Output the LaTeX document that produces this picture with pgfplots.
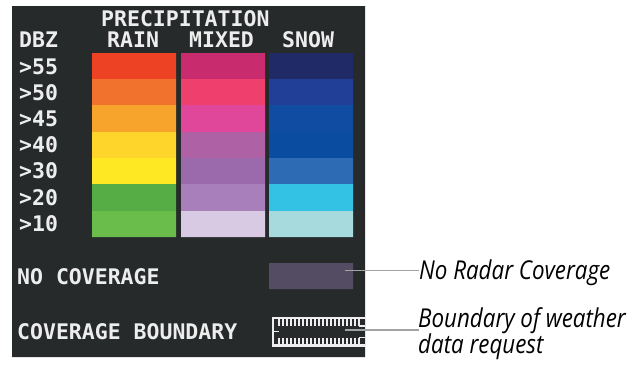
\documentclass[border=0pt]{standalone}
\usepackage{pgfplots}
\pgfplotsset{compat=1.18}
\usepackage{fontspec}
\setmainfont{Open Sans}
\newfontfamily\pixfamily{DejaVu Sans Mono}
\newfontfamily\callfamily[FakeStretch=0.86,ItalicFeatures={FakeStretch=0.86}]{Open Sans}
\newcommand{\pix}{\pixfamily\bfseries\fontsize{21.5}{21.5}\selectfont}
\newcommand{\call}{\callfamily\itshape\fontsize{26}{26}\selectfont}
\definecolor{panel}{HTML}{262A2B}
\definecolor{txt}{HTML}{EDEDED}
\definecolor{nocov}{HTML}{544C63}
\definecolor{callline}{HTML}{A3A3A3}
% rain
\definecolor{ra1}{HTML}{EE4224}\definecolor{ra2}{HTML}{F0722C}\definecolor{ra3}{HTML}{F7A42C}
\definecolor{ra4}{HTML}{FDD52B}\definecolor{ra5}{HTML}{FEE824}\definecolor{ra6}{HTML}{56AD46}
\definecolor{ra7}{HTML}{6ABD4B}
% mixed
\definecolor{mi1}{HTML}{C92B6F}\definecolor{mi2}{HTML}{EE3F6D}\definecolor{mi3}{HTML}{E0479A}
\definecolor{mi4}{HTML}{AE62A5}\definecolor{mi5}{HTML}{9A6AAD}\definecolor{mi6}{HTML}{A97FBB}
\definecolor{mi7}{HTML}{D9CAE4}
% snow
\definecolor{sn1}{HTML}{202A66}\definecolor{sn2}{HTML}{213F96}\definecolor{sn3}{HTML}{0F4CA2}
\definecolor{sn4}{HTML}{0A4DA0}\definecolor{sn5}{HTML}{2D6BB4}\definecolor{sn6}{HTML}{33C1E4}
\definecolor{sn7}{HTML}{A6DADC}
% cell: x0, x1, y0, y1, colour
\newcommand{\cell}[5]{\addplot[draw=none,fill=#5] coordinates {(#1,#3) (#2,#3) (#2,#4) (#1,#4) (#1,#3)};}
\begin{document}
\begin{tikzpicture}
\begin{axis}[
  scale only axis, width=635pt, height=365pt,
  xmin=0, xmax=635, ymin=0, ymax=365, y dir=reverse,
  hide axis, clip=true,
]
% panel
\cell{12}{365}{6}{357}{panel}
% rain column
\cell{92}{176}{53}{79}{ra1}
\cell{92}{176}{79}{105}{ra2}
\cell{92}{176}{105}{132}{ra3}
\cell{92}{176}{132}{158}{ra4}
\cell{92}{176}{158}{184}{ra5}
\cell{92}{176}{184}{211}{ra6}
\cell{92}{176}{211}{237}{ra7}
% mixed column
\cell{181}{265}{53}{79}{mi1}
\cell{181}{265}{79}{105}{mi2}
\cell{181}{265}{105}{132}{mi3}
\cell{181}{265}{132}{158}{mi4}
\cell{181}{265}{158}{184}{mi5}
\cell{181}{265}{184}{211}{mi6}
\cell{181}{265}{211}{237}{mi7}
% snow column
\cell{269}{353}{53}{79}{sn1}
\cell{269}{353}{79}{105}{sn2}
\cell{269}{353}{105}{132}{sn3}
\cell{269}{353}{132}{158}{sn4}
\cell{269}{353}{158}{184}{sn5}
\cell{269}{353}{184}{211}{sn6}
\cell{269}{353}{211}{237}{sn7}
% no coverage
\cell{269}{353}{263}{289}{nocov}
% coverage boundary symbol
\addplot[txt, line width=2.2pt] coordinates {(366,318) (273,318) (273,345.5) (366,345.5)};
\foreach \xx in {279,283,...,359} {
  \edef\tmp{\noexpand\draw[txt, line width=1.4pt] (axis cs:\xx,318) -- (axis cs:\xx,326);
            \noexpand\draw[txt, line width=1.4pt] (axis cs:\xx,337.5) -- (axis cs:\xx,345.5);}
  \tmp
}
\draw[txt, line width=1.4pt] (axis cs:273,331.5) -- (axis cs:279,331.5);
\draw[txt, line width=1.4pt] (axis cs:359,326) -- (axis cs:365,326);
\draw[txt, line width=1.4pt] (axis cs:359,337.5) -- (axis cs:365,337.5);
% callout lines
\addplot[callline, line width=1.6pt] coordinates {(345,270.5) (419,270.5)};
\addplot[callline, line width=1.6pt] coordinates {(345,330) (419,330)};
% panel texts
\node[anchor=base west, inner sep=0, text=txt, font=\pix] at (axis cs:101,26) {PRECIPITATION};
\node[anchor=base west, inner sep=0, text=txt, font=\pix] at (axis cs:19,47) {DBZ};
\node[anchor=base west, inner sep=0, text=txt, font=\pix] at (axis cs:107,47) {RAIN};
\node[anchor=base west, inner sep=0, text=txt, font=\pix] at (axis cs:189,47) {MIXED};
\node[anchor=base west, inner sep=0, text=txt, font=\pix] at (axis cs:282,47) {SNOW};
\node[anchor=base west, inner sep=0, text=txt, font=\pix] at (axis cs:19,74) {>55};
\node[anchor=base west, inner sep=0, text=txt, font=\pix] at (axis cs:19,100) {>50};
\node[anchor=base west, inner sep=0, text=txt, font=\pix] at (axis cs:19,126) {>45};
\node[anchor=base west, inner sep=0, text=txt, font=\pix] at (axis cs:19,152.5) {>40};
\node[anchor=base west, inner sep=0, text=txt, font=\pix] at (axis cs:19,178.5) {>30};
\node[anchor=base west, inner sep=0, text=txt, font=\pix] at (axis cs:19,205) {>20};
\node[anchor=base west, inner sep=0, text=txt, font=\pix] at (axis cs:19,231.5) {>10};
\node[anchor=base west, inner sep=0, text=txt, font=\pix] at (axis cs:17,284) {NO COVERAGE};
\node[anchor=base west, inner sep=0, text=txt, font=\pix] at (axis cs:17,339) {COVERAGE BOUNDARY};
% callout texts
\node[anchor=base west, inner sep=0, text=black, font=\call] at (axis cs:419,279) {No Radar Coverage};
\node[anchor=base west, inner sep=0, text=black, font=\call] at (axis cs:418,327) {Boundary of weather};
\node[anchor=base west, inner sep=0, text=black, font=\call] at (axis cs:418,353) {data request};
\end{axis}
\pgfresetboundingbox
\path (0,0) rectangle (635pt,365pt);
\end{tikzpicture}
\end{document}
